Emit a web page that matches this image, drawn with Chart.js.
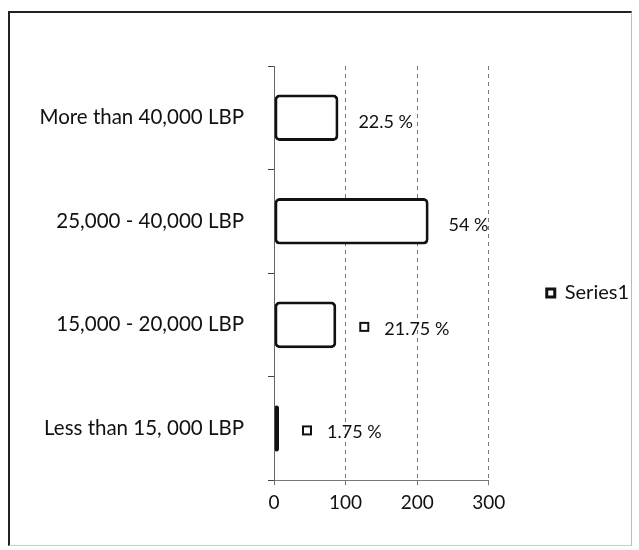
<!DOCTYPE html>
<html>
<head>
<meta charset="utf-8">
<script src="https://cdn.jsdelivr.net/npm/chart.js@4"></script>
<style>
  body { margin: 0; background: #fff; }
  #wrap { position: relative; width: 639px; height: 550px; }
  #frame {
    position: absolute; left: 8px; top: 11px; width: 621px; height: 532px;
    border-left: 2px solid #222; border-top: 2px solid #222;
    border-right: 1px solid #bbb; border-bottom: 1px solid #ccc;
    pointer-events: none;
  }
</style>
</head>
<body>
<div id="wrap">
  <canvas id="incomeChart" width="639" height="550"></canvas>
  <div id="frame"></div>
</div>
<script>
// Income groups (bottom to top in the picture = top to bottom here)
const categories = [
    'More than 40,000 LBP',
    '25,000 - 40,000 LBP',
    '15,000 - 20,000 LBP',
    'Less than 15, 000 LBP'
];
// Number of respondents (out of 400)
const counts = [90, 216, 87, 7];
// Percent labels shown next to each bar
const percentLabels = ['22.5 %', '54 %', '21.75 %', '1.75 %'];
// Which labels show the small legend key in front of them
const showKey = [false, false, true, true];
const xTicks = [0, 100, 200, 300];

const FONT = 'Lato, "Open Sans", sans-serif';

// Draws the percent labels to the right of each bar
const percentPlugin = {
    id: 'percentLabels',
    afterDatasetsDraw(chart) {
        const ctx = chart.ctx;
        const meta = chart.getDatasetMeta(0);
        ctx.save();
        ctx.font = '18px ' + FONT;
        ctx.fillStyle = '#111';
        ctx.textBaseline = 'middle';
        meta.data.forEach((bar, i) => {
            let x = bar.x + 20;
            if (showKey[i]) {
                x += 8;
                ctx.lineWidth = 2;
                ctx.strokeStyle = '#111';
                ctx.strokeRect(x - 4, bar.y - 2, 8, 8);
                x += 20;
            }
            ctx.fillText(percentLabels[i], x, bar.y + 4);
        });
        ctx.restore();
    }
};

window.onload = function() {
    const ctx = document.getElementById('incomeChart').getContext('2d');

    new Chart(ctx, {
        type: 'bar',
        data: {
            labels: categories,
            datasets: [{
                label: 'Series1',
                data: counts,
                backgroundColor: '#ffffff',
                borderColor: '#111111',
                borderWidth: 3,
                borderRadius: 5,
                borderSkipped: false,
                categoryPercentage: 0.9,
                barPercentage: 0.5
            }]
        },
        options: {
            indexAxis: 'y',
            responsive: false,
            animation: false,
            layout: {
                padding: { left: 28, right: 0, top: 66, bottom: 30 }
            },
            plugins: {
                legend: {
                    position: 'right',
                    labels: {
                        font: { family: FONT, size: 20 },
                        color: '#111',
                        boxWidth: 8,
                        boxHeight: 8,
                        padding: 58
                    }
                },
                tooltip: { enabled: false }
            },
            scales: {
                x: {
                    min: 0,
                    max: 300,
                    afterBuildTicks: (axis) => {
                        axis.ticks = xTicks.map(v => ({ value: v }));
                    },
                    ticks: {
                        font: { family: FONT, size: 19 },
                        color: '#111',
                        padding: 6
                    },
                    grid: {
                        color: '#777',
                        tickLength: 5
                    },
                    border: { color: '#777', dash: [4, 4] }
                },
                y: {
                    afterFit: (scale) => {
                        // room for the long category names
                        scale.width = 246;
                    },
                    ticks: {
                        font: { family: FONT, size: 20.5 },
                        color: '#111',
                        padding: 24
                    },
                    grid: {
                        offset: true,
                        drawOnChartArea: false,
                        color: '#444',
                        tickLength: 6
                    },
                    border: { color: '#666' }
                }
            }
        },
        plugins: [percentPlugin]
    });
};
</script>
</body>
</html>
